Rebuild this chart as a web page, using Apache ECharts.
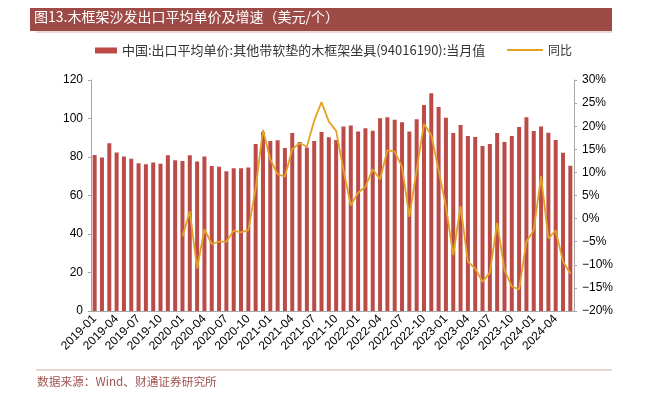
<!DOCTYPE html>
<html>
<head>
<meta charset="utf-8">
<script src="https://cdn.jsdelivr.net/npm/echarts@6/dist/echarts.min.js"></script>
<style>
  html, body { margin: 0; padding: 0; background: #fff; }
  #chart { width: 646px; height: 399px; }
</style>
</head>
<body>
<div id="chart"></div>
<script>
// 月份 2019-01 ~ 2024-06
const months = []
for (let y = 2019; y <= 2024; y++) {
  for (let m = 1; m <= 12; m++) {
    if (y === 2024 && m > 6) break
    months.push(y + '-' + (m < 10 ? '0' + m : m))
  }
}

// 当月值（美元/个）
const priceValues = [
  81.0, 79.8, 87.1, 82.4, 80.2, 79.1, 76.7, 76.2, 77.1, 76.5, 80.9, 78.3,
  77.9, 80.9, 77.6, 80.2, 75.3, 75.0, 72.6, 74.1, 74.1, 74.5, 86.8, 93.0,
  88.3, 88.7, 84.7, 92.5, 87.8, 85.0, 88.3, 93.0, 90.2, 88.8, 95.8, 96.3,
  93.3, 94.9, 93.7, 100.1, 100.6, 99.4, 98.0, 93.2, 99.6, 107.0, 113.1, 106.0,
  100.4, 92.5, 96.6, 90.9, 90.4, 85.7, 86.8, 92.5, 87.8, 90.9, 95.6, 100.6,
  93.5, 95.8, 92.6, 88.8, 82.2, 75.5
]

// 同比（%），2019 年无数据
const yoyValues = [
  null, null, null, null, null, null, null, null, null, null, null, null,
  -3.9, 1.6, -10.8, -2.3, -5.5, -5.0, -5.0, -2.6, -3.0, -2.5, 6.5, 19.2,
  12.8, 9.6, 9.1, 15.0, 16.3, 15.6, 21.2, 25.2, 21.0, 19.0, 10.5, 2.9,
  5.6, 6.9, 10.7, 8.5, 14.8, 14.5, 11.2, 0.4, 10.5, 20.5, 18.1, 10.5,
  2.6, -7.9, 2.7, -9.3, -10.8, -13.7, -11.7, -0.9, -11.1, -14.7, -15.3, -5.0,
  -2.5, 9.2, -4.3, -2.6, -9.3, -11.9
]

const barName = '中国:出口平均单价:其他带软垫的木框架坐具(94016190):当月值'
const lineName = '同比'

const colors = {
  bar: '#BC4B48',
  line: '#E2A226',
  title: '#9E4A47',
  axis: '#A6A6A6',
}

const labelFont = '"Liberation Sans", Arial, sans-serif'
const cnFont = '"Noto Sans CJK SC", sans-serif'

const chart = echarts.init(document.getElementById('chart'))

const option = {
  animation: false,
  grid: { left: 91, right: 72, top: 80, bottom: 88 },
  legend: [
    {
      data: [barName],
      left: 95, top: 44, padding: 0,
      itemWidth: 22, itemHeight: 6, itemGap: 8, icon: 'rect',
      textStyle: { fontFamily: cnFont, fontSize: 13, color: '#333' },
    },
    {
      data: [lineName],
      left: 507, top: 44, padding: 0,
      itemWidth: 36, itemHeight: 2, icon: 'rect',
      textStyle: { fontFamily: cnFont, fontSize: 12, color: '#333' },
    },
  ],
  xAxis: {
    type: 'category',
    data: months,
    axisLine: { lineStyle: { color: colors.axis } },
    axisTick: { show: false },
    axisLabel: {
      interval: 2,
      rotate: 45,
      fontFamily: labelFont,
      fontSize: 12,
      color: '#000',
      margin: 6,
    },
  },
  yAxis: [
    {
      type: 'value',
      min: 0, max: 120, interval: 20,
      splitLine: { show: false },
      axisLine: { show: true, lineStyle: { color: colors.axis } },
      axisTick: { show: true, length: 3, lineStyle: { color: colors.axis } },
      axisLabel: { fontFamily: labelFont, fontSize: 12, color: '#000', margin: 8 },
    },
    {
      type: 'value',
      min: -20, max: 30, interval: 5,
      splitLine: { show: false },
      axisLine: { show: true, lineStyle: { color: colors.axis } },
      axisTick: { show: true, length: 3, lineStyle: { color: colors.axis } },
      axisLabel: {
        fontFamily: labelFont, fontSize: 12, color: '#000', margin: 8,
        formatter: v => String(v).replace('-', '\u2212') + '%',
      },
    },
  ],
  series: [
    {
      name: barName,
      type: 'bar',
      data: priceValues,
      barWidth: 4,
      itemStyle: { color: colors.bar },
    },
    {
      name: lineName,
      type: 'line',
      yAxisIndex: 1,
      data: yoyValues,
      symbol: 'none',
      lineStyle: { color: colors.line, width: 1.8 },
      itemStyle: { color: colors.line },
    },
  ],
  graphic: [
    {
      type: 'rect',
      shape: { x: 30, y: 8, width: 582, height: 23 },
      style: { fill: colors.title },
    },
    {
      type: 'line',
      shape: { x1: 36, y1: 32, x2: 612, y2: 32 },
      style: { stroke: '#D9B2B0', lineWidth: 1 },
    },
    {
      type: 'text',
      left: 34, top: 10,
      style: {
        text: '图13.木框架沙发出口平均单价及增速（美元/个）',
        fill: '#fff',
        font: '14px ' + cnFont,
      },
    },
    {
      type: 'line',
      shape: { x1: 36, y1: 370, x2: 612, y2: 370 },
      style: { stroke: '#D9A9A7', lineWidth: 1 },
    },
    {
      type: 'text',
      left: 37, top: 376,
      style: {
        text: '数据来源：Wind、财通证券研究所',
        fill: '#A0524F',
        font: '11.7px ' + cnFont,
      },
    },
  ],
}

chart.setOption(option)
</script>
</body>
</html>
